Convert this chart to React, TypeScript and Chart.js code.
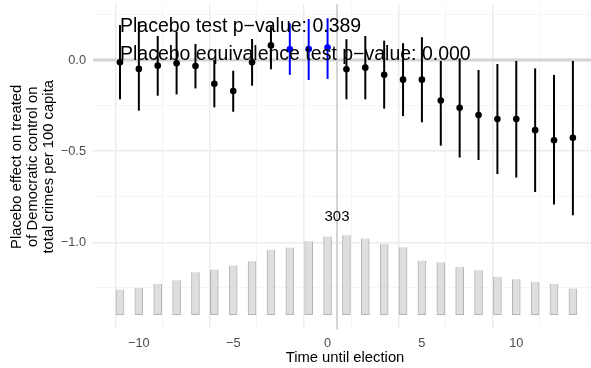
import React, { useEffect, useRef } from "react";
import { Chart, registerables } from "chart.js";

Chart.register(...registerables);

// ---- data ----
const periods = [-11, -10, -9, -8, -7, -6, -5, -4, -3, -2, -1, 0, 1, 2, 3, 4, 5, 6, 7, 8, 9, 10, 11, 12, 13];
const estimates = [-0.013, -0.049, -0.031, -0.018, -0.033, -0.13, -0.17, -0.013, 0.08, 0.059, 0.06, 0.068, -0.051, -0.042, -0.081, -0.108, -0.108, -0.222, -0.262, -0.302, -0.324, -0.324, -0.385, -0.44, -0.427];
const ciLow = [-0.216, -0.278, -0.196, -0.189, -0.156, -0.26, -0.284, -0.141, -0.051, -0.082, -0.11, -0.104, -0.216, -0.216, -0.267, -0.308, -0.342, -0.47, -0.535, -0.549, -0.626, -0.645, -0.724, -0.793, -0.852];
const ciHigh = [0.192, 0.21, 0.132, 0.155, 0.088, 0.0, -0.059, 0.115, 0.185, 0.201, 0.225, 0.229, 0.114, 0.132, 0.106, 0.092, 0.125, -0.005, 0.009, -0.055, -0.022, -0.005, -0.046, -0.082, -0.005];
const highlighted = [-2, -1, 0];
const counts = [96, 103, 118, 131, 162, 172, 187, 204, 248, 256, 280, 298, 303, 290, 269, 257, 206, 200, 182, 169, 145, 135, 125, 118, 100];
const histBase = -1.397;
const histScale = 0.4357 / 303;
const maxCountLabel = "303";
const maxCountX = 0.5;
const maxCountY = -0.882;
const xTicks = [-10, -7.5, -5, -2.5, 0, 2.5, 5, 7.5, 10, 12.5];
const yTicks = [-1.25, -1, -0.75, -0.5, -0.25, 0, 0.25];
const annotations = [
  { text: "Placebo test p\u2212value: 0.389", x: -11, y: 0.151 },
  { text: "Placebo equivalence test p\u2212value: 0.000", x: -11, y: -0.002 },
];
const yTitle = ["Placebo effect on treated", "of Democratic control on", "total crimes per 100 capita"];
const xTitle = "Time until election";
const refX = 0.5;
const refY = 0;

const FONT = "'Liberation Sans', Arial, Helvetica, sans-serif";
const fmt = (v: number, d: number) => (v < 0 ? "\u2212" : "") + Math.abs(v).toFixed(d);

const overlayPlugin = {
  id: "overlay",
  beforeDatasetsDraw(chart: any) {
    const { ctx, chartArea, scales } = chart;
    const xs = scales.x;
    const ys = scales.y;
    ctx.save();
    // reference lines
    ctx.strokeStyle = "#d4d4d4";
    ctx.lineWidth = 3;
    ctx.beginPath();
    const py0 = ys.getPixelForValue(refY);
    ctx.moveTo(chartArea.left, py0);
    ctx.lineTo(chartArea.right, py0);
    ctx.stroke();
    ctx.lineWidth = 2;
    ctx.beginPath();
    const px0 = xs.getPixelForValue(refX);
    ctx.moveTo(px0, chartArea.top);
    ctx.lineTo(px0, chartArea.bottom);
    ctx.stroke();
    // error bars
    ctx.lineWidth = 2;
    periods.forEach((p, i) => {
      const px = xs.getPixelForValue(p);
      ctx.strokeStyle = highlighted.includes(p) ? "#0000ff" : "#000000";
      ctx.beginPath();
      ctx.moveTo(px, ys.getPixelForValue(ciLow[i]));
      ctx.lineTo(px, ys.getPixelForValue(ciHigh[i]));
      ctx.stroke();
    });
    ctx.restore();
  },
  afterDatasetsDraw(chart: any) {
    const { ctx, scales, chartArea } = chart;
    const xs = scales.x;
    const ys = scales.y;
    ctx.save();
    ctx.fillStyle = "#000000";
    ctx.font = `19.5px ${FONT}`;
    ctx.textAlign = "left";
    ctx.textBaseline = "alphabetic";
    annotations.forEach((a) => {
      ctx.fillText(a.text, xs.getPixelForValue(a.x), ys.getPixelForValue(a.y));
    });
    ctx.font = `15px ${FONT}`;
    ctx.textAlign = "center";
    ctx.fillText(maxCountLabel, xs.getPixelForValue(maxCountX), ys.getPixelForValue(maxCountY));
    // axis titles
    ctx.font = `14.8px ${FONT}`;
    ctx.fillText(xTitle, 345, 362);
    const cy = (chartArea.top + chartArea.bottom) / 2;
    yTitle.forEach((line, i) => {
      ctx.save();
      ctx.translate(21 + i * 16, cy);
      ctx.rotate(-Math.PI / 2);
      ctx.fillText(line, 0, 0);
      ctx.restore();
    });
    ctx.restore();
  },
};

export default function App() {
  const ref = useRef<HTMLCanvasElement | null>(null);
  useEffect(() => {
    if (!ref.current) return;
    const chart = new Chart(ref.current, {
      type: "scatter",
      data: {
        datasets: [
          {
            type: "bar",
            data: periods.map((p, i) => ({ x: p, y: [histBase, histBase + counts[i] * histScale] })) as any,
            backgroundColor: "#dedede",
            borderColor: "#b4b4b4",
            borderWidth: 1,
            barThickness: 8,
            order: 2,
          } as any,
          {
            type: "scatter",
            data: periods.map((p, i) => ({ x: p, y: estimates[i] })),
            pointRadius: 3.3,
            pointBackgroundColor: periods.map((p) => (highlighted.includes(p) ? "#0000ff" : "#000000")),
            pointBorderColor: periods.map((p) => (highlighted.includes(p) ? "#0000ff" : "#000000")),
            pointBorderWidth: 0,
            order: 1,
          } as any,
        ],
      },
      options: {
        animation: false,
        responsive: false,
        maintainAspectRatio: false,
        layout: { autoPadding: false, padding: { top: 4.2, left: 0, right: 0, bottom: 0 } },
        plugins: { legend: { display: false }, tooltip: { enabled: false } },
        scales: {
          x: {
            type: "linear",
            min: -12.43,
            max: 13.96,
            offset: false,
            border: { display: false },
            afterBuildTicks: (s: any) => {
              s.ticks = xTicks.map((v) => ({ value: v }));
            },
            afterFit: (s: any) => {
              s.height = 38.6;
              s.paddingLeft = 0;
              s.paddingRight = 0;
            },
            grid: {
              drawTicks: false,
              color: (c: any) => (c.tick && Number.isInteger(c.tick.value) ? "#ebebeb" : "#f2f2f2"),
              lineWidth: (c: any) => (c.tick && Number.isInteger(c.tick.value) ? 1.4 : 0.8),
            },
            ticks: {
              autoSkip: false,
              maxRotation: 0,
              padding: 6,
              color: "#4d4d4d",
              font: { family: FONT, size: 12.8 },
              callback: (v: any) => (Number.isInteger(v) && v % 5 === 0 ? fmt(v, 0) : ""),
            },
          },
          y: {
            type: "linear",
            min: -1.478,
            max: 0.306,
            border: { display: false },
            afterBuildTicks: (s: any) => {
              s.ticks = yTicks.map((v) => ({ value: v }));
            },
            afterFit: (s: any) => {
              s.width = 93;
              s.paddingTop = 0;
              s.paddingBottom = 0;
            },
            grid: {
              drawTicks: false,
              color: (c: any) => (c.tick && Math.abs((c.tick.value * 2) % 1) < 1e-9 ? "#ebebeb" : "#f2f2f2"),
              lineWidth: (c: any) => (c.tick && Math.abs((c.tick.value * 2) % 1) < 1e-9 ? 1.4 : 0.8),
            },
            ticks: {
              autoSkip: false,
              padding: 7,
              color: "#4d4d4d",
              font: { family: FONT, size: 12.8 },
              callback: (v: any) => (Math.abs((v * 2) % 1) < 1e-9 ? fmt(v, 1) : ""),
            },
          },
        },
      },
      plugins: [overlayPlugin],
    });
    return () => chart.destroy();
  }, []);
  return (
    <div style={{ position: "fixed", left: 0, top: 0, width: 591, height: 368, background: "#fff" }}>
      <canvas ref={ref} width={591} height={368} style={{ width: 591, height: 368, display: "block" }} />
    </div>
  );
}
